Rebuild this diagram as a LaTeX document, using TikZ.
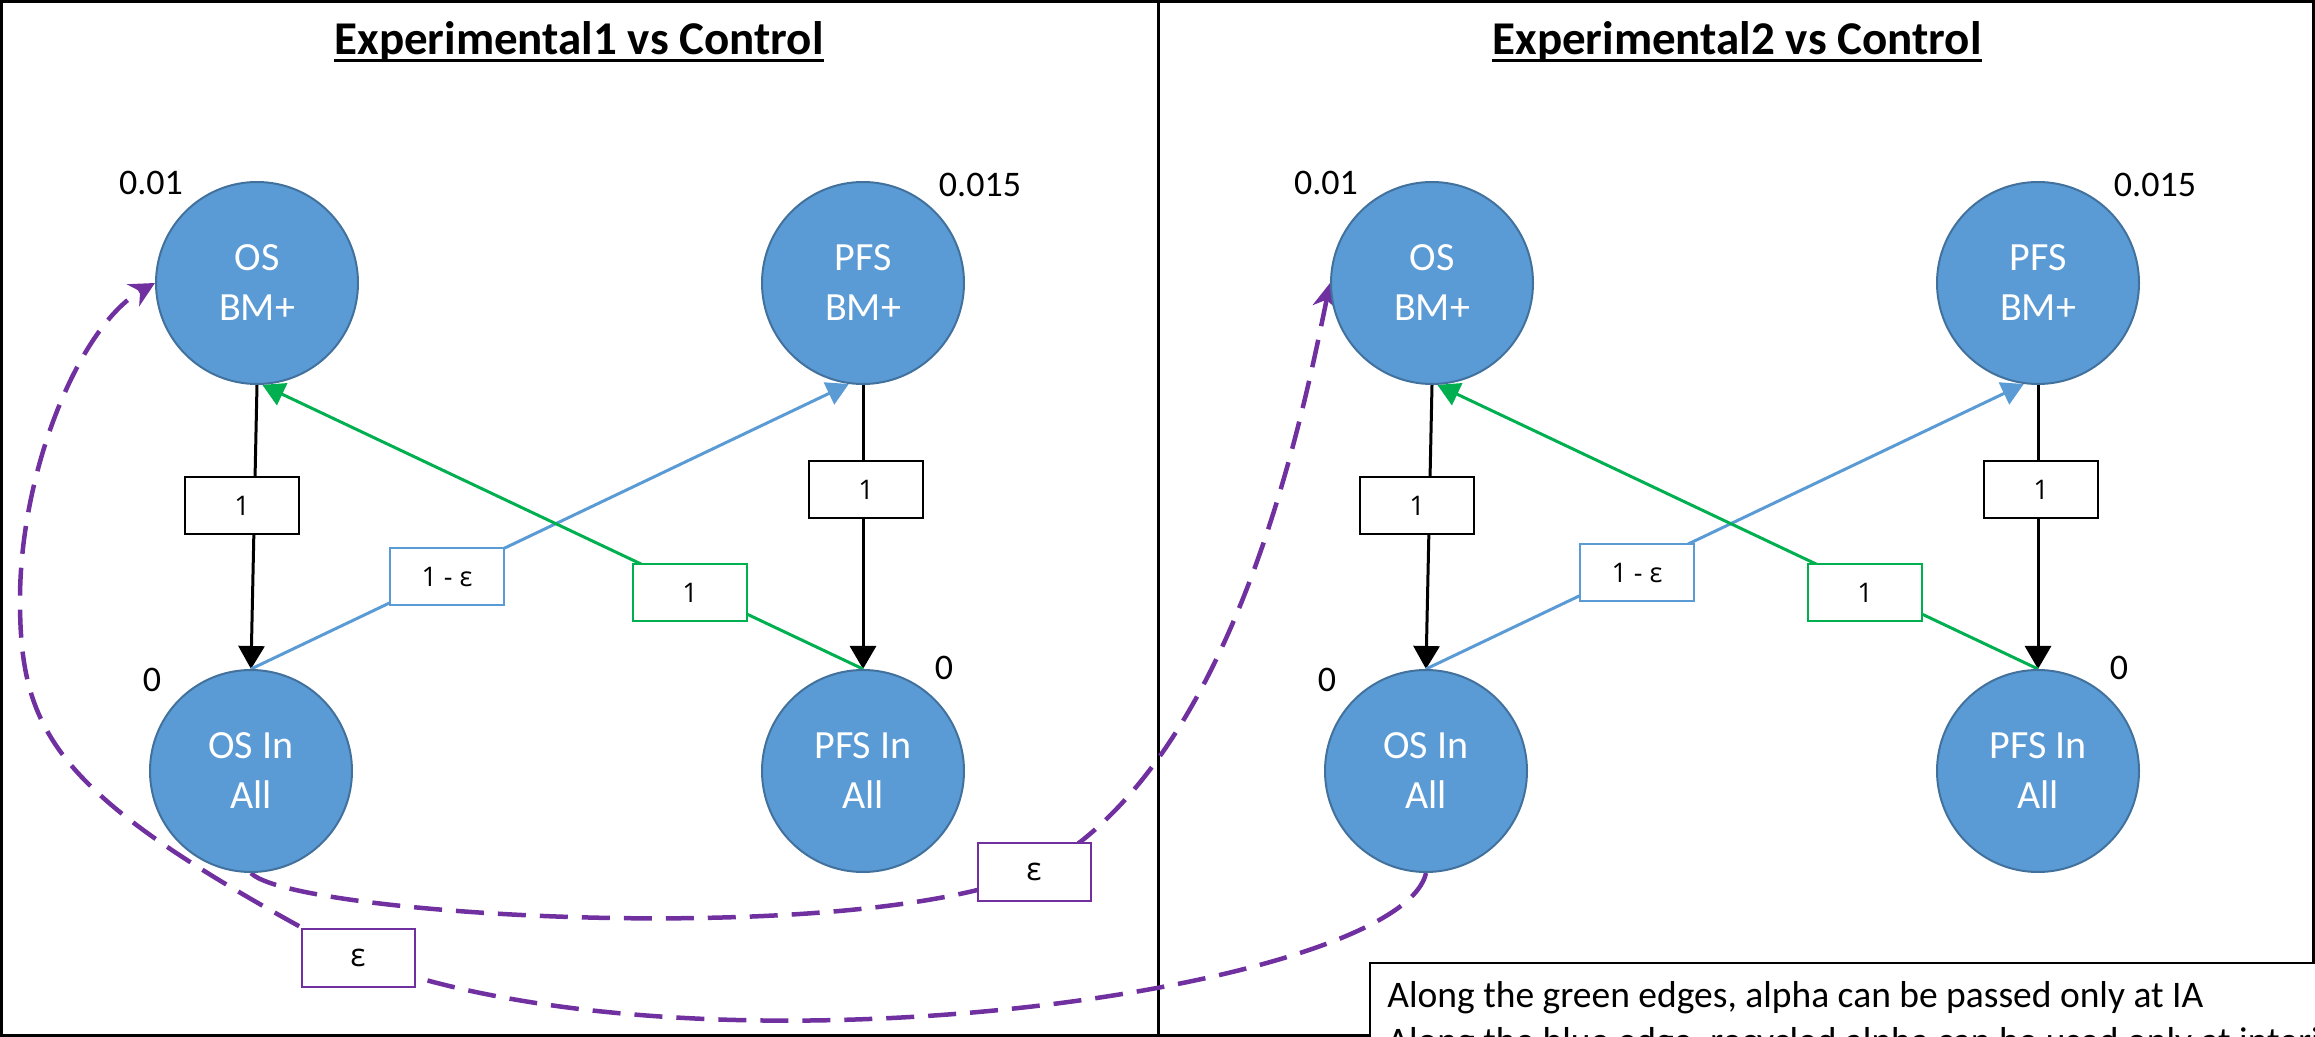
\documentclass[tikz,border=0pt]{standalone}
\usepackage{fontspec}
\setmainfont{Carlito}
\newfontfamily\lblfont{Open Sans}
\usetikzlibrary{arrows.meta}
\definecolor{circfill}{HTML}{5B9BD5}
\definecolor{circdraw}{HTML}{41719C}
\definecolor{edgeblue}{HTML}{5B9BD5}
\definecolor{edgegreen}{HTML}{00B050}
\definecolor{epurple}{HTML}{7030A0}
\pgfdeclarelayer{bg}
\pgfsetlayers{bg,main}
\begin{document}
\begin{tikzpicture}[x=0.5pt,y=-0.5pt,
  state/.style={circle, fill=circfill, draw=circdraw, line width=1pt, minimum size=101pt, inner sep=0pt, text=white, align=center, font=\fontsize{20}{25}\selectfont},
  val/.style={inner sep=0pt, font=\fontsize{18}{22}\selectfont},
  lbl/.style={draw=black, fill=white, line width=1pt, minimum width=57pt, minimum height=28.5pt, inner sep=0pt, font=\lblfont\fontsize{13.5}{16}\selectfont},
  plbl/.style={draw=epurple, fill=white, line width=1pt, minimum width=56.5pt, minimum height=29pt, inner sep=0pt, font=\lblfont\fontsize{16}{19}\selectfont},
  ttl/.style={anchor=base, inner sep=0pt, font=\fontsize{23.5}{28}\selectfont\bfseries},
  blk/.style={line width=1.5pt, draw=black, -{Triangle[length=11.5pt,width=13pt]}},
  blu/.style={line width=1.5pt, draw=edgeblue, -{Triangle[length=11pt,width=12pt]}},
  grn/.style={line width=1.5pt, draw=edgegreen, -{Triangle[length=11pt,width=12pt]}},
  pur/.style={line width=2.25pt, draw=epurple, dash pattern=on 14pt off 7pt, -{Stealth[length=12.5pt,width=12.5pt,inset=4pt]}},
  frame/.style={line width=1.5pt, draw=black},
  notetxt/.style={anchor=base west, inner sep=0pt, font=\fontsize{18.75}{23}\selectfont}]
\useasboundingbox (0,0) rectangle (2315,1037);

% titles
\node[ttl] (t1) at (579,55) {Experimental1 vs Control};
\node[ttl] (t2) at (1737,55) {Experimental2 vs Control};

% left graph
\node[state] (osbmL) at (257,283) {OS\\BM+};
\node[state] (pfsbmL) at (863,283) {PFS\\BM+};
\node[state] (osinL) at (251,771) {OS In\\All};
\node[state] (pfsinL) at (863,771) {PFS In\\All};
\node[val] (v1L) at (151,183) {0.01};
\node[val] (v2L) at (980,185) {0.015};
\node[val] (v3L) at (152,680) {0};
\node[val] (v4L) at (944,668) {0};
\node[lbl] (l1L) at (242,506) {1};
\node[lbl] (l2L) at (866,490) {1};
\node[lbl, draw=edgeblue] (l3L) at (447,577) {1 - ε};
\node[lbl, draw=edgegreen] (l4L) at (690,593) {1};

% right graph
\node[state] (osbmR) at (1432,283) {OS\\BM+};
\node[state] (pfsbmR) at (2038,283) {PFS\\BM+};
\node[state] (osinR) at (1426,771) {OS In\\All};
\node[state] (pfsinR) at (2038,771) {PFS In\\All};
\node[val] (v1R) at (1326,183) {0.01};
\node[val] (v2R) at (2155,185) {0.015};
\node[val] (v3R) at (1327,680) {0};
\node[val] (v4R) at (2119,668) {0};
\node[lbl] (l1R) at (1417,506) {1};
\node[lbl] (l2R) at (2041,490) {1};
\node[lbl, draw=edgeblue] (l3R) at (1637,573) {1 - ε};
\node[lbl, draw=edgegreen] (l4R) at (1865,593) {1};

% epsilon labels on purple edges
\node[plbl] (epsA) at (1034,872) {ε};
\node[plbl] (epsB) at (358,958) {ε};
\coordinate (bendL) at (20,600);

\begin{pgfonlayer}{bg}
  \draw[frame] (1.5,1.5) rectangle (1158,1035.5);
  \draw[frame] (1158,1.5) rectangle (2313.5,1035.5);
  \draw[line width=1.5pt] ([yshift=-3pt]t1.base west) -- ([yshift=-3pt]t1.base east);
  \draw[line width=1.5pt] ([yshift=-3pt]t2.base west) -- ([yshift=-3pt]t2.base east);
  % left graph edges
  \draw[blk] (osbmL.south) -- (osinL.north);
  \draw[blk] (pfsbmL.south) -- (pfsinL.north);
  \draw[blu] (osinL.north) -- (pfsbmL.262);
  \draw[grn] (pfsinL.north) -- (osbmL.273);
  % right graph edges
  \draw[blk] (osbmR.south) -- (osinR.north);
  \draw[blk] (pfsbmR.south) -- (pfsinR.north);
  \draw[blu] (osinR.north) -- (pfsbmR.262);
  \draw[grn] (pfsinR.north) -- (osbmR.273);
  % purple dashed edges
  \draw[pur] (osinL.south) .. controls (290,915) and (850,950) .. (epsA.center)
             .. controls (1230,770) and (1300,430) .. (osbmR.west);
  \draw[pur] (osinR.south) .. controls (1400,990) and (700,1090) .. (epsB.center)
             .. controls (60,800) and (20,740) .. (bendL)
             .. controls (20,470) and (80,325) .. (osbmL.west);
\end{pgfonlayer}

% note box
\begin{scope}
  \clip (0,0) rectangle (2315,1037);
  \node (note) [draw=black, line width=1pt, fill=white, anchor=north west, minimum width=600pt, minimum height=200pt, inner sep=0pt] at (1369,962) {};
  \node[notetxt] (n1) at (1387,1007) {Along the green edges, alpha can be passed only at IA};
  \node[notetxt] (n2) at (1387,1053) {Along the blue edge, recycled alpha can be used only at interim};
\end{scope}
\end{tikzpicture}
\end{document}
